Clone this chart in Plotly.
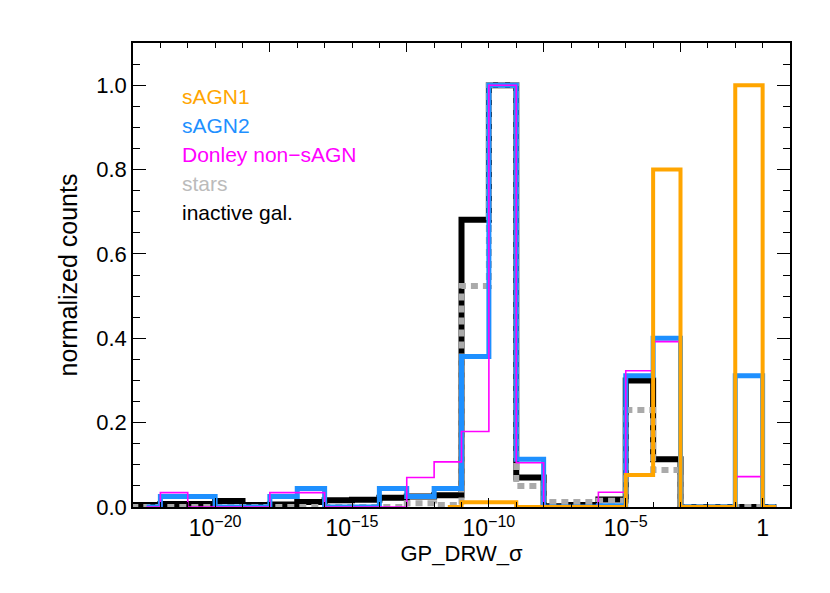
import plotly.graph_objects as go

# bin centres in log10(GP_DRW_sigma), one-decade bins (IDL psym=10 style steps)
LOG_CENTERS = [-23.5, -22.5, -21.5, -20.5, -19.5, -18.5, -17.5, -16.5, -15.5, -14.5,
               -13.5, -12.5, -11.5, -10.5, -9.5, -8.5, -7.5, -6.5, -5.5, -4.5,
               -3.5, -2.5, -1.5, -0.5, 0.5]

SAGN1 = [None, None, None, None, None, None, None, None, None, None,
         None, None, 0.0, 0.011, 0.011, 0.0, 0.0, 0.0, 0.0, 0.076,
         0.80, 0.0, 0.0, 1.0, 0.0]
SAGN2 = [None, 0.0, 0.025, 0.025, 0.0, 0.0, 0.025, 0.044, 0.0, 0.0,
         0.044, 0.025, 0.044, 0.357, 1.0, 0.113, 0.0, 0.0, 0.003, 0.311,
         0.40, 0.0, 0.0, 0.311, 0.0]
DONLEY = [None, 0.0, 0.034, 0.0, 0.0, 0.0, 0.034, 0.034, 0.0, 0.0,
          0.0, 0.07, 0.107, 0.179, 1.0, 0.105, 0.0, 0.0, 0.035, 0.323,
          0.392, 0.0, 0.0, 0.072, 0.0]
STARS = [0.0, 0.0, 0.0, 0.0, 0.0, 0.0, 0.0, 0.0, 0.0, 0.0,
         0.0, 0.009, 0.005, 0.524, 1.0, 0.05, 0.012, 0.012, 0.015, 0.23,
         0.088, 0.0, 0.0, 0.0, 0.0]
INACTIVE = [0.005, 0.005, 0.007, 0.007, 0.014, 0.005, 0.006, 0.012, 0.016, 0.017,
            0.022, 0.025, 0.028, 0.681, 1.0, 0.07, 0.002, 0.005, 0.018, 0.30,
            0.113, 0.0, 0.0, 0.0, 0.0]

BOTTOM_TICKS = [1e-20, 1e-15, 1e-10, 1e-5, 1]
BOTTOM_TICKTEXT = ["10<sup>\u221220</sup>", "10<sup>\u221215</sup>", "10<sup>\u221210</sup>",
                   "10<sup>\u22125</sup>", "1"]
TOP_TICKS = [1e-18, 1e-13, 1e-8, 1e-3]

x = [10 ** c for c in LOG_CENTERS]
FONT = "Liberation Sans, Arial, sans-serif"

fig = go.Figure()
series = [
    (INACTIVE, "#000000", 6, "solid"),
    (STARS, "#aaaaaa", 6, "7px,5px"),
    (SAGN2, "#1e90ff", 5, "solid"),
    (DONLEY, "#ff00ff", 1.6, "solid"),
    (SAGN1, "#ffa500", 4, "solid"),
]
for vals, color, width, dash in series:
    fig.add_trace(go.Scatter(
        x=x, y=vals, mode="lines", line_shape="hvh",
        line=dict(color=color, width=width, dash=dash),
        connectgaps=False, showlegend=False,
    ))
# carrier for the top axis
fig.add_trace(go.Scatter(x=[None], y=[None], xaxis="x2", showlegend=False))

labels = [("sAGN1", "#ffa500"), ("sAGN2", "#1e90ff"), ("Donley non\u2212sAGN", "#ff00ff"),
          ("stars", "#bbbbbb"), ("inactive gal.", "#000000")]
for i, (txt, col) in enumerate(labels):
    fig.add_annotation(text=txt, xref="paper", yref="paper", x=0.071, y=0.884 - i * 0.0625,
                       xanchor="left", yanchor="middle", showarrow=False,
                       font=dict(size=21, color=col, family=FONT))

fig.update_layout(
    width=830, height=593,
    margin=dict(l=125, r=48, t=35, b=94),
    plot_bgcolor="white", paper_bgcolor="white",
    font=dict(family=FONT, size=21, color="black"),
    xaxis=dict(
        type="log", range=[-23, 1], automargin=False,
        tickmode="array", tickvals=BOTTOM_TICKS, ticktext=BOTTOM_TICKTEXT,
        tickfont=dict(size=23, family=FONT),
        ticks="inside", ticklen=9, tickcolor="black", tickwidth=1.3,
        minor=dict(tick0=0, dtick=1, ticks="inside", ticklen=5, tickcolor="black", tickwidth=1.3),
        showgrid=False, zeroline=False,
        showline=True, linecolor="black", linewidth=1.5, mirror=True,
        title=dict(text="GP_DRW_\u03c3", standoff=2,
                   font=dict(size=22, family=FONT, color="black")),
    ),
    xaxis2=dict(
        type="log", range=[-23, 1], overlaying="x", side="top", anchor="y", automargin=False,
        tickmode="array", tickvals=TOP_TICKS, showticklabels=False,
        ticks="inside", ticklen=9, tickcolor="black", tickwidth=1.3,
        minor=dict(tick0=0, dtick=1, ticks="inside", ticklen=5, tickcolor="black", tickwidth=1.3),
        showgrid=False, zeroline=False, showline=False,
    ),
    yaxis=dict(
        range=[0, 1.1], automargin=False, tickmode="array", tickvals=[0, 0.2, 0.4, 0.6, 0.8, 1.0],
        tickformat=".1f", tickfont=dict(size=22, family=FONT),
        ticks="inside", ticklen=13, tickcolor="black", tickwidth=1.3,
        minor=dict(dtick=0.05, ticks="inside", ticklen=7, tickcolor="black", tickwidth=1.3),
        showgrid=False, zeroline=False,
        showline=True, linecolor="black", linewidth=1.5, mirror="ticks",
        title=dict(text="normalized counts", standoff=12,
                   font=dict(size=25, family=FONT, color="black")),
    ),
)

fig.write_html("out.html")
